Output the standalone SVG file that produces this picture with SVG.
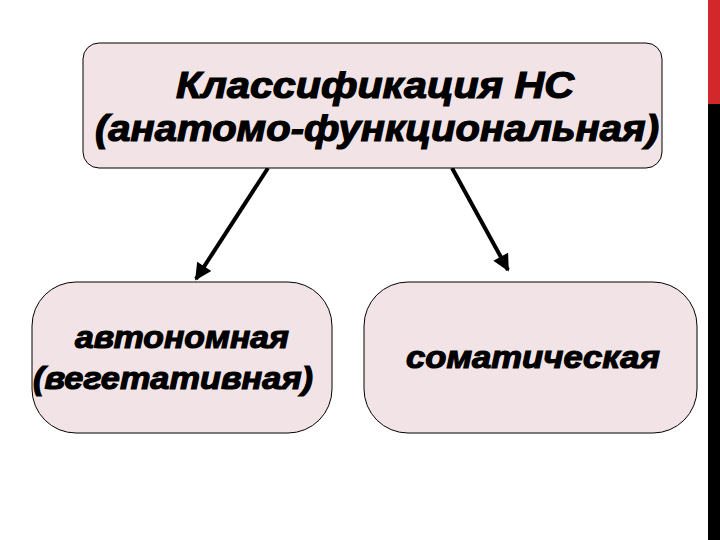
<svg xmlns="http://www.w3.org/2000/svg" width="720" height="540" viewBox="0 0 720 540">
<style>
.box{fill:#F2E4E6;stroke:#000;stroke-width:1}
.t{font-family:"Liberation Sans",Arial,sans-serif;font-weight:bold;font-style:italic;fill:#000;stroke:#000;stroke-width:1.2;text-anchor:middle}
.c{stroke:#000;stroke-width:4;fill:none}
</style>
<defs>
<marker id="ah" viewBox="0 0 10 10" refX="9" refY="5" markerWidth="5" markerHeight="4.2" orient="auto" markerUnits="strokeWidth">
<path d="M0,0 L10,5 L0,10 Z" fill="#000"/>
</marker>
</defs>
<rect width="720" height="540" fill="#fff"/>
<rect x="708" y="0" width="12" height="104" fill="#D3282B"/>
<rect x="708" y="104" width="12" height="436" fill="#000"/>
<g id="connectors">
<line class="c" x1="268" y1="168" x2="196" y2="279" marker-end="url(#ah)"/>
<line class="c" x1="452" y1="168" x2="508" y2="270" marker-end="url(#ah)"/>
</g>
<g id="top">
<rect class="box" x="83" y="43" width="579" height="125" rx="16" ry="16"/>
<text class="t" x="375" y="98" font-size="36" textLength="398" lengthAdjust="spacingAndGlyphs">Классификация НС</text>
<text class="t" x="377" y="141" font-size="36" textLength="564" lengthAdjust="spacingAndGlyphs">(анатомо-функциональная)</text>
</g>
<g id="left">
<rect class="box" x="32" y="282" width="300" height="151" rx="44" ry="44"/>
<text class="t" x="182" y="348" font-size="32" textLength="214" lengthAdjust="spacingAndGlyphs">автономная</text>
<text class="t" x="173" y="389" font-size="32" textLength="280" lengthAdjust="spacingAndGlyphs">(вегетативная)</text>
</g>
<g id="right">
<rect class="box" x="364" y="282" width="333" height="151" rx="44" ry="44"/>
<text class="t" x="533" y="368" font-size="32" textLength="254" lengthAdjust="spacingAndGlyphs">соматическая</text>
</g>
</svg>
